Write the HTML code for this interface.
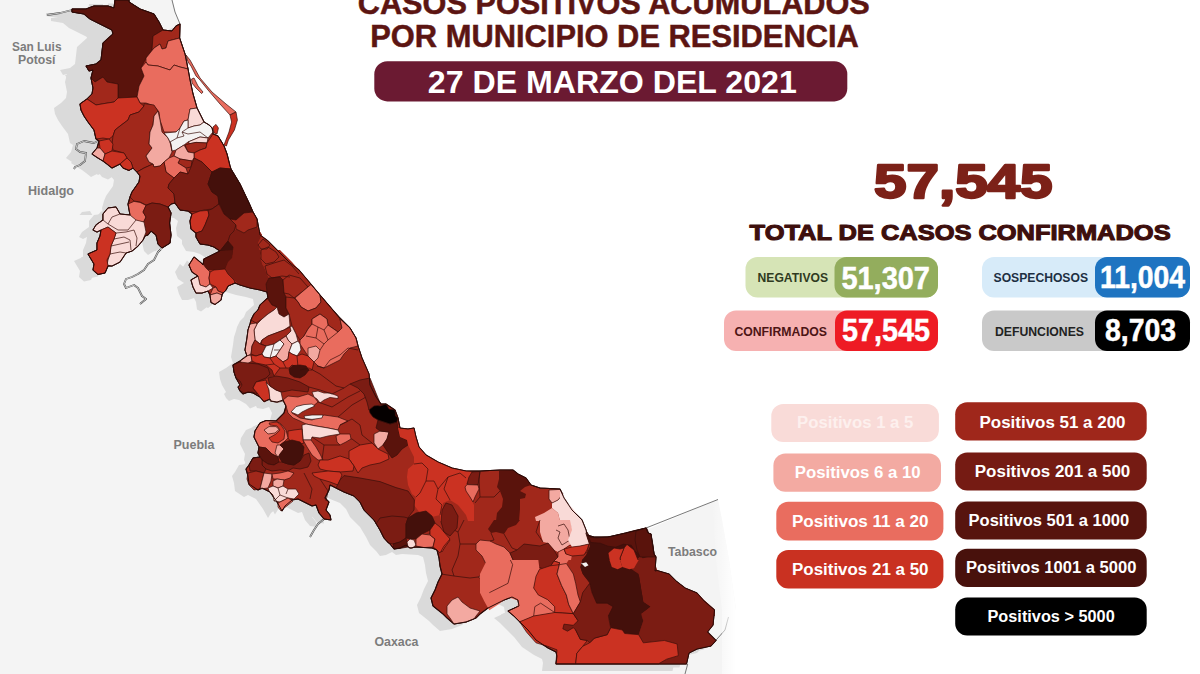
<!DOCTYPE html>
<html><head><meta charset="utf-8">
<style>
html,body{margin:0;padding:0;background:#fff;}
body{width:1200px;height:674px;overflow:hidden;font-family:"Liberation Sans",sans-serif;}
svg{display:block;position:absolute;left:0;top:0;}
text{font-family:"Liberation Sans",sans-serif;font-weight:bold;}
.c0{fill:#f4f2f2}.c1{fill:#f9dad7}.c2{fill:#f3a9a1}.c3{fill:#e96c5e}.c4{fill:#cb3222}.c5{fill:#a1281b}.c6{fill:#7b1c13}.c7{fill:#5a130c}.c8{fill:#44100b}.c9{fill:#050000}
</style></head><body>
<svg width="1200" height="674" viewBox="0 0 1200 674">
<rect width="1200" height="674" fill="#ffffff"/>
<polygon fill="#f4f4f4" points="0,0 172,0 175,12 180,24 180,30 185,100 200,140 225,190 245,230 275,270 320,320 350,370 372,410 405,445 460,480 520,495 580,540 646,530 718,499.5 722,520 729,560 736,610 735,674 0,674"/>
<clipPath id="topc"><rect x="0" y="0" width="300" height="215"/></clipPath><g clip-path="url(#topc)"><polygon points="115,0 114,8 108,6 94,6 86,9 72,9 72,12 84,14 90,19 100,24 112,30 113,34 103,43 101,60 96,64 86,66 89,71 93,70 91,78 93,88 92,94 87,99 80,104 81,110 84,116 88,122 94,130 96,139 99,141 97,148 92,154 98,158 103,161 107,164 112,168 120,164 123,168 129,170.4 133,168 137,172 140,176 139,182 132,192 130,197 128,204 130,215 120,214 116,207 108,208 103,214 103,220 96,225 93,230 97,232 101,230 100,236 97,243 97,250 88,254 94,264 93,270 98,274.4 105,273 108,266 112,266 120,262 126,253 132,251 138,246 143,240 145,236 148,235 151,231 156,235 158,244 162,248 170,243 171,235 169.6,223 171,213 168,207 171,204 175,203 180,210 188,211 192,214 190,221 191,229 196,233 196,237 200,244 208,245 214,247 220,251 212,255 204,259 203,265 200,262 194,257 189,265 192,272 198,276 191,280 193,287 196,293 202,293 208,291 210,295 211,302.4 215,304.4 221,300 222,295 223,293 226,290 228,286 235,283 240,285 250,288 260,290 267,292 268,298 260,305 258,310 254,314 251,320 250,324 248,330 247,338 245,350 247,356 240,361 233,365 234,372 236,378 240,385 238,387 240,391 243,394 248,392 253,393 260,397 264,401.4 270,399 271,401 277,402 283,400 286,406 284,413 281,416 276,421 266,420.6 260,423 255,431 254,437 256,441 259,447 258,453 260,457 253,458 249,465 246,469 248,476 249,484 258,490 262,488 270,492 277,502 282,511 285,506 292,500 298,499 306,503 312,506 316,505 319,513 324,519 331,520 330,515 326,510 329,502 325,498 329,490 330,485 336,488 344,492 354,496 360,502 364,510 374,520 380,530 384,538 390,544 394,549 400,548 406,545 410,548 416,547 432,548 437,550 439,558 440,566 442,574 438,582 435,590 431,598 433,606 443,614 447,618 454,624 466,622 476,618 480,614 488,608 496,604 504,600 512,597 518,600 519,606 508,611 514,616 520,622 528,630 536,640 548,648 556,652 557,656 556,664 686.5,664 689,653 697,649 711,646 716,640.5 707.5,632 713,625 714.5,610 704,601 697,593 685,588 676,581 669,574 657,570.5 655,571 656,557 654,554 651,534 648,533 646,528 626,533 608,537 594,537 587,535 586,530 582,520 572,510 564,498 560,489 540,488 531,485 526,478 518,474 513,470 500,470 480,471 466,471 452,468 438,462 426,455 419,447 416,437 414,428 408,429 400,428 398,418 395,410 386,404 381,404 376,397 370,385 369,374 362,358 358,346 356,338 350,328 340,318 332,309 320,295 310,283 299,270 290,263 280,253 268,241 260,235 257,219 253,212 249,203 240,184 231,169 230,166 227,154 224,146 218,136 213,134 213,132 212,128 209,125 204,122 200,114 197,108 193,94 190,80 188,69 185,54 179.6,38 180,24 176,26 172,31 163,30 159,22 154,14 140,9 129,2 129,0" transform="translate(-21,9)" fill="#dadada"/><polygon points="115,0 114,8 108,6 94,6 86,9 72,9 72,12 84,14 90,19 100,24 112,30 113,34 103,43 101,60 96,64 86,66 89,71 93,70 91,78 93,88 92,94 87,99 80,104 81,110 84,116 88,122 94,130 96,139 99,141 97,148 92,154 98,158 103,161 107,164 112,168 120,164 123,168 129,170.4 133,168 137,172 140,176 139,182 132,192 130,197 128,204 130,215 120,214 116,207 108,208 103,214 103,220 96,225 93,230 97,232 101,230 100,236 97,243 97,250 88,254 94,264 93,270 98,274.4 105,273 108,266 112,266 120,262 126,253 132,251 138,246 143,240 145,236 148,235 151,231 156,235 158,244 162,248 170,243 171,235 169.6,223 171,213 168,207 171,204 175,203 180,210 188,211 192,214 190,221 191,229 196,233 196,237 200,244 208,245 214,247 220,251 212,255 204,259 203,265 200,262 194,257 189,265 192,272 198,276 191,280 193,287 196,293 202,293 208,291 210,295 211,302.4 215,304.4 221,300 222,295 223,293 226,290 228,286 235,283 240,285 250,288 260,290 267,292 268,298 260,305 258,310 254,314 251,320 250,324 248,330 247,338 245,350 247,356 240,361 233,365 234,372 236,378 240,385 238,387 240,391 243,394 248,392 253,393 260,397 264,401.4 270,399 271,401 277,402 283,400 286,406 284,413 281,416 276,421 266,420.6 260,423 255,431 254,437 256,441 259,447 258,453 260,457 253,458 249,465 246,469 248,476 249,484 258,490 262,488 270,492 277,502 282,511 285,506 292,500 298,499 306,503 312,506 316,505 319,513 324,519 331,520 330,515 326,510 329,502 325,498 329,490 330,485 336,488 344,492 354,496 360,502 364,510 374,520 380,530 384,538 390,544 394,549 400,548 406,545 410,548 416,547 432,548 437,550 439,558 440,566 442,574 438,582 435,590 431,598 433,606 443,614 447,618 454,624 466,622 476,618 480,614 488,608 496,604 504,600 512,597 518,600 519,606 508,611 514,616 520,622 528,630 536,640 548,648 556,652 557,656 556,664 686.5,664 689,653 697,649 711,646 716,640.5 707.5,632 713,625 714.5,610 704,601 697,593 685,588 676,581 669,574 657,570.5 655,571 656,557 654,554 651,534 648,533 646,528 626,533 608,537 594,537 587,535 586,530 582,520 572,510 564,498 560,489 540,488 531,485 526,478 518,474 513,470 500,470 480,471 466,471 452,468 438,462 426,455 419,447 416,437 414,428 408,429 400,428 398,418 395,410 386,404 381,404 376,397 370,385 369,374 362,358 358,346 356,338 350,328 340,318 332,309 320,295 310,283 299,270 290,263 280,253 268,241 260,235 257,219 253,212 249,203 240,184 231,169 230,166 227,154 224,146 218,136 213,134 213,132 212,128 209,125 204,122 200,114 197,108 193,94 190,80 188,69 185,54 179.6,38 180,24 176,26 172,31 163,30 159,22 154,14 140,9 129,2 129,0" transform="translate(-26,4)" fill="#dadada"/></g><polygon points="115,0 114,8 108,6 94,6 86,9 72,9 72,12 84,14 90,19 100,24 112,30 113,34 103,43 101,60 96,64 86,66 89,71 93,70 91,78 93,88 92,94 87,99 80,104 81,110 84,116 88,122 94,130 96,139 99,141 97,148 92,154 98,158 103,161 107,164 112,168 120,164 123,168 129,170.4 133,168 137,172 140,176 139,182 132,192 130,197 128,204 130,215 120,214 116,207 108,208 103,214 103,220 96,225 93,230 97,232 101,230 100,236 97,243 97,250 88,254 94,264 93,270 98,274.4 105,273 108,266 112,266 120,262 126,253 132,251 138,246 143,240 145,236 148,235 151,231 156,235 158,244 162,248 170,243 171,235 169.6,223 171,213 168,207 171,204 175,203 180,210 188,211 192,214 190,221 191,229 196,233 196,237 200,244 208,245 214,247 220,251 212,255 204,259 203,265 200,262 194,257 189,265 192,272 198,276 191,280 193,287 196,293 202,293 208,291 210,295 211,302.4 215,304.4 221,300 222,295 223,293 226,290 228,286 235,283 240,285 250,288 260,290 267,292 268,298 260,305 258,310 254,314 251,320 250,324 248,330 247,338 245,350 247,356 240,361 233,365 234,372 236,378 240,385 238,387 240,391 243,394 248,392 253,393 260,397 264,401.4 270,399 271,401 277,402 283,400 286,406 284,413 281,416 276,421 266,420.6 260,423 255,431 254,437 256,441 259,447 258,453 260,457 253,458 249,465 246,469 248,476 249,484 258,490 262,488 270,492 277,502 282,511 285,506 292,500 298,499 306,503 312,506 316,505 319,513 324,519 331,520 330,515 326,510 329,502 325,498 329,490 330,485 336,488 344,492 354,496 360,502 364,510 374,520 380,530 384,538 390,544 394,549 400,548 406,545 410,548 416,547 432,548 437,550 439,558 440,566 442,574 438,582 435,590 431,598 433,606 443,614 447,618 454,624 466,622 476,618 480,614 488,608 496,604 504,600 512,597 518,600 519,606 508,611 514,616 520,622 528,630 536,640 548,648 556,652 557,656 556,664 686.5,664 689,653 697,649 711,646 716,640.5 707.5,632 713,625 714.5,610 704,601 697,593 685,588 676,581 669,574 657,570.5 655,571 656,557 654,554 651,534 648,533 646,528 626,533 608,537 594,537 587,535 586,530 582,520 572,510 564,498 560,489 540,488 531,485 526,478 518,474 513,470 500,470 480,471 466,471 452,468 438,462 426,455 419,447 416,437 414,428 408,429 400,428 398,418 395,410 386,404 381,404 376,397 370,385 369,374 362,358 358,346 356,338 350,328 340,318 332,309 320,295 310,283 299,270 290,263 280,253 268,241 260,235 257,219 253,212 249,203 240,184 231,169 230,166 227,154 224,146 218,136 213,134 213,132 212,128 209,125 204,122 200,114 197,108 193,94 190,80 188,69 185,54 179.6,38 180,24 176,26 172,31 163,30 159,22 154,14 140,9 129,2 129,0" transform="translate(-7,3.5)" fill="#dadada"/><polygon points="115,0 114,8 108,6 94,6 86,9 72,9 72,12 84,14 90,19 100,24 112,30 113,34 103,43 101,60 96,64 86,66 89,71 93,70 91,78 93,88 92,94 87,99 80,104 81,110 84,116 88,122 94,130 96,139 99,141 97,148 92,154 98,158 103,161 107,164 112,168 120,164 123,168 129,170.4 133,168 137,172 140,176 139,182 132,192 130,197 128,204 130,215 120,214 116,207 108,208 103,214 103,220 96,225 93,230 97,232 101,230 100,236 97,243 97,250 88,254 94,264 93,270 98,274.4 105,273 108,266 112,266 120,262 126,253 132,251 138,246 143,240 145,236 148,235 151,231 156,235 158,244 162,248 170,243 171,235 169.6,223 171,213 168,207 171,204 175,203 180,210 188,211 192,214 190,221 191,229 196,233 196,237 200,244 208,245 214,247 220,251 212,255 204,259 203,265 200,262 194,257 189,265 192,272 198,276 191,280 193,287 196,293 202,293 208,291 210,295 211,302.4 215,304.4 221,300 222,295 223,293 226,290 228,286 235,283 240,285 250,288 260,290 267,292 268,298 260,305 258,310 254,314 251,320 250,324 248,330 247,338 245,350 247,356 240,361 233,365 234,372 236,378 240,385 238,387 240,391 243,394 248,392 253,393 260,397 264,401.4 270,399 271,401 277,402 283,400 286,406 284,413 281,416 276,421 266,420.6 260,423 255,431 254,437 256,441 259,447 258,453 260,457 253,458 249,465 246,469 248,476 249,484 258,490 262,488 270,492 277,502 282,511 285,506 292,500 298,499 306,503 312,506 316,505 319,513 324,519 331,520 330,515 326,510 329,502 325,498 329,490 330,485 336,488 344,492 354,496 360,502 364,510 374,520 380,530 384,538 390,544 394,549 400,548 406,545 410,548 416,547 432,548 437,550 439,558 440,566 442,574 438,582 435,590 431,598 433,606 443,614 447,618 454,624 466,622 476,618 480,614 488,608 496,604 504,600 512,597 518,600 519,606 508,611 514,616 520,622 528,630 536,640 548,648 556,652 557,656 556,664 686.5,664 689,653 697,649 711,646 716,640.5 707.5,632 713,625 714.5,610 704,601 697,593 685,588 676,581 669,574 657,570.5 655,571 656,557 654,554 651,534 648,533 646,528 626,533 608,537 594,537 587,535 586,530 582,520 572,510 564,498 560,489 540,488 531,485 526,478 518,474 513,470 500,470 480,471 466,471 452,468 438,462 426,455 419,447 416,437 414,428 408,429 400,428 398,418 395,410 386,404 381,404 376,397 370,385 369,374 362,358 358,346 356,338 350,328 340,318 332,309 320,295 310,283 299,270 290,263 280,253 268,241 260,235 257,219 253,212 249,203 240,184 231,169 230,166 227,154 224,146 218,136 213,134 213,132 212,128 209,125 204,122 200,114 197,108 193,94 190,80 188,69 185,54 179.6,38 180,24 176,26 172,31 163,30 159,22 154,14 140,9 129,2 129,0" transform="translate(-14,7)" fill="#dadada"/>
<polyline points="161,249 158,252 154,260 148,264 144,270 138,274 132,277 126,279 124,284 126,288 134,285 138,288 142,296 146,299 140,304" fill="none" stroke="#4a4a4a" stroke-width="1.8" stroke-linejoin="round"/><polyline points="161,249 158,252 154,260 148,264 144,270 138,274 132,277 126,279 124,284 126,288 134,285 138,288 142,296 146,299 140,304" fill="none" stroke="#fafafa" stroke-width="0.7" stroke-linejoin="round"/>
<polyline points="100,140 94,143 84,141 77,144 76,149 80,152 86,153 85,161 80,165 75,167 74,169" fill="none" stroke="#4a4a4a" stroke-width="1.8" stroke-linejoin="round"/><polyline points="100,140 94,143 84,141 77,144 76,149 80,152 86,153 85,161 80,165 75,167 74,169" fill="none" stroke="#fafafa" stroke-width="0.7" stroke-linejoin="round"/>
<polyline points="72,10 60,13 47,15" fill="none" stroke="#4a4a4a" stroke-width="1.8" stroke-linejoin="round"/><polyline points="72,10 60,13 47,15" fill="none" stroke="#fafafa" stroke-width="0.7" stroke-linejoin="round"/>
<polyline points="324,519 318,524 314,530 310,537" fill="none" stroke="#4a4a4a" stroke-width="1.8" stroke-linejoin="round"/><polyline points="324,519 318,524 314,530 310,537" fill="none" stroke="#fafafa" stroke-width="0.7" stroke-linejoin="round"/>
<polyline points="728.5,617 725,630 715.7,640.5" fill="none" stroke="#555" stroke-width="0.8"/>
<polyline points="687.7,664 685,674" fill="none" stroke="#555" stroke-width="0.8"/>
<linearGradient id="tf" x1="0" y1="0" x2="1" y2="0"><stop offset="0" stop-color="#fff" stop-opacity="0"/><stop offset="1" stop-color="#fff" stop-opacity="1"/></linearGradient><polygon points="712,499 718,499 722,520 729,560 736,610 736,674 722,674 722,610 716,560" fill="url(#tf)"/>
<polyline points="646,528 718,499.5" fill="none" stroke="#555" stroke-width="0.8"/>
<polyline points="172,0 175,12 180,24" fill="none" stroke="#555" stroke-width="0.8"/>
<polygon points="115,0 114,8 108,6 94,6 86,9 72,9 72,12 84,14 90,19 100,24 112,30 113,34 103,43 101,60 96,64 86,66 89,71 93,70 91,78 93,88 92,94 87,99 80,104 81,110 84,116 88,122 94,130 96,139 99,141 97,148 92,154 98,158 103,161 107,164 112,168 120,164 123,168 129,170.4 133,168 137,172 140,176 139,182 132,192 130,197 128,204 130,215 120,214 116,207 108,208 103,214 103,220 96,225 93,230 97,232 101,230 100,236 97,243 97,250 88,254 94,264 93,270 98,274.4 105,273 108,266 112,266 120,262 126,253 132,251 138,246 143,240 145,236 148,235 151,231 156,235 158,244 162,248 170,243 171,235 169.6,223 171,213 168,207 171,204 175,203 180,210 188,211 192,214 190,221 191,229 196,233 196,237 200,244 208,245 214,247 220,251 212,255 204,259 203,265 200,262 194,257 189,265 192,272 198,276 191,280 193,287 196,293 202,293 208,291 210,295 211,302.4 215,304.4 221,300 222,295 223,293 226,290 228,286 235,283 240,285 250,288 260,290 267,292 268,298 260,305 258,310 254,314 251,320 250,324 248,330 247,338 245,350 247,356 240,361 233,365 234,372 236,378 240,385 238,387 240,391 243,394 248,392 253,393 260,397 264,401.4 270,399 271,401 277,402 283,400 286,406 284,413 281,416 276,421 266,420.6 260,423 255,431 254,437 256,441 259,447 258,453 260,457 253,458 249,465 246,469 248,476 249,484 258,490 262,488 270,492 277,502 282,511 285,506 292,500 298,499 306,503 312,506 316,505 319,513 324,519 331,520 330,515 326,510 329,502 325,498 329,490 330,485 336,488 344,492 354,496 360,502 364,510 374,520 380,530 384,538 390,544 394,549 400,548 406,545 410,548 416,547 432,548 437,550 439,558 440,566 442,574 438,582 435,590 431,598 433,606 443,614 447,618 454,624 466,622 476,618 480,614 488,608 496,604 504,600 512,597 518,600 519,606 508,611 514,616 520,622 528,630 536,640 548,648 556,652 557,656 556,664 686.5,664 689,653 697,649 711,646 716,640.5 707.5,632 713,625 714.5,610 704,601 697,593 685,588 676,581 669,574 657,570.5 655,571 656,557 654,554 651,534 648,533 646,528 626,533 608,537 594,537 587,535 586,530 582,520 572,510 564,498 560,489 540,488 531,485 526,478 518,474 513,470 500,470 480,471 466,471 452,468 438,462 426,455 419,447 416,437 414,428 408,429 400,428 398,418 395,410 386,404 381,404 376,397 370,385 369,374 362,358 358,346 356,338 350,328 340,318 332,309 320,295 310,283 299,270 290,263 280,253 268,241 260,235 257,219 253,212 249,203 240,184 231,169 230,166 227,154 224,146 218,136 213,134 213,132 212,128 209,125 204,122 200,114 197,108 193,94 190,80 188,69 185,54 179.6,38 180,24 176,26 172,31 163,30 159,22 154,14 140,9 129,2 129,0" fill="#a1281b" stroke="#2c0a07" stroke-width="1.1" stroke-linejoin="round"/>

<g transform="translate(60,0) scale(0.2)" stroke="#3a0e0a" stroke-width="3.5" stroke-linejoin="round">
<polygon class="c7" points="275,0 270,40 240,30 170,30 130,45 60,45 60,60 120,70 150,95 200,120 260,150 265,170 215,215 205,300 180,320 130,330 145,355 165,350 155,390 175,410 215,385 235,410 290,420 290,490 385,485 395,430 420,380 405,340 430,290 460,250 465,180 515,150 495,110 470,70 400,45 345,10 345,0"/>
<polygon class="c5" points="465,180 515,150 560,155 580,130 600,120 598,190 540,205 530,240 510,245 500,220 470,240 460,250"/>
<polygon class="c3" points="430,290 470,240 500,220 510,245 530,240 540,205 598,190 625,270 640,345 600,335 570,325 550,350 520,340 490,330 440,325 430,310"/>
<polygon class="c3" points="405,340 430,310 440,325 490,330 520,340 550,350 570,325 600,335 640,345 650,400 665,470 685,540 650,545 640,600 620,605 600,640 580,660 520,660 500,600 495,560 470,530 430,515 400,515 385,485 395,430 420,380"/>
</g>
<g transform="translate(60,68) scale(0.2)" stroke="#3a0e0a" stroke-width="3.5" stroke-linejoin="round">
<polygon class="c5" points="155,50 175,70 215,45 235,70 290,80 290,150 270,170 220,178 180,185 150,165 135,155 160,130 165,100"/>
<polygon class="c4" points="100,180 135,155 150,165 180,185 220,178 270,170 290,150 385,145 400,175 420,190 395,220 350,235 340,260 300,290 275,310 265,340 245,355 215,350 180,355 170,310 140,270 120,240 105,210"/>
<polygon class="c5" points="420,178 470,185 490,215 470,240 465,285 450,320 445,380 460,400 430,440 445,470 465,480 420,500 385,520 365,500 355,470 335,450 320,425 265,410 260,380 265,340 275,310 300,290 340,260 350,235 395,220 420,190"/>
<polygon class="c2" points="490,215 500,260 510,320 540,350 555,380 560,420 545,450 520,470 500,490 470,495 465,480 445,470 430,440 460,400 445,380 450,320 465,285 470,240"/>
<polygon class="c1" points="650,205 685,200 700,230 720,270 700,285 670,290 640,300 640,260"/>
<polygon class="c0" points="520,325 580,320 600,300 620,265 640,260 640,300 670,290 700,285 720,270 745,285 760,300 765,320 740,350 700,345 640,370 620,385 580,410 560,415 555,380 540,350"/>
<polyline points="560,415 550,370 585,350 600,300" fill="none" stroke="#3a0e0a"/>
<polyline points="640,300 610,320 640,330 700,320 740,350" fill="none" stroke="#3a0e0a"/>
<polyline points="585,350 620,340 610,320" fill="none" stroke="#3a0e0a"/>
<polygon class="c4" points="765,295 780,282 792,300 785,330 770,325"/>
<polygon class="c1" points="640,370 700,345 740,350 735,375 680,372 650,378"/>
<polygon class="c5" points="625,385 650,378 680,372 735,375 730,400 700,410 670,425 640,420"/>
<polygon class="c4" points="735,375 765,330 790,340 820,390 835,430 850,490 855,505 800,500 760,520 710,470 670,450 670,425 700,410 730,400"/>
<polygon class="c2" points="580,410 620,385 640,420 670,425 670,450 660,465 600,455 570,440"/>
<polygon class="c5" points="600,455 660,465 655,495 630,500 590,475"/>
<polygon class="c3" points="520,470 545,450 570,440 600,455 590,475 630,500 640,530 600,520 570,550 530,520"/>
<polygon class="c4" points="195,365 245,355 265,380 260,415 225,430 200,400"/>
<polygon class="c2" points="160,430 185,400 200,400 225,430 215,465 190,450"/>
<polygon class="c4" points="225,430 260,415 320,425 335,450 300,480 260,500 235,480 215,465"/>
<polygon class="c4" points="335,450 355,470 365,500 345,512 315,500 300,480"/>
<polygon class="c3" points="630,-65 650,-40 700,50 760,120 830,180 880,220 850,235 800,180 740,110 700,60 680,40 655,-10 640,-30"/>
<polygon class="c4" points="850,235 880,220 887,260 872,310 842,360 832,390 820,385 845,320 858,270"/>
<polygon class="c3" points="658,55 670,50 690,90 715,120 708,128 680,100 660,75"/>
</g>
<g transform="translate(60,135) scale(0.2)" stroke="#3a0e0a" stroke-width="3.5" stroke-linejoin="round">
<polygon class="c6" stroke="none" points="880,470 920,490 940,475 985,460 1010,500 990,540 1000,590 1010,640 1020,675 830,675 835,640 860,600 865,560 840,530 850,500 870,480"/>
<polygon class="c7" stroke="none" points="720,620 760,600 800,580 820,580 860,600 835,640 830,675 730,675 715,650"/>
<polygon class="c5" stroke="none" points="985,460 1000,500 1040,530 1100,590 1150,640 1190,680 1020,680 1010,640 1000,590 990,540 1010,500"/>
<polygon class="c3" stroke="none" points="650,640 670,610 700,640 720,670 715,680 660,680"/>
<polygon class="c5" points="385,185 420,165 465,145 470,160 500,155 520,135 530,185 570,215 545,245 540,265 570,295 575,340 555,345 540,360 500,345 460,340 430,350 400,335 370,330 350,310 360,285 395,235 400,205"/>
<polygon class="c6" points="570,215 600,185 640,195 655,160 670,115 710,135 760,185 740,245 760,285 790,305 795,345 760,370 720,375 680,385 640,380 600,375 575,340 570,295 540,265 545,245"/>
<polygon class="c8" points="760,185 800,165 855,170 900,245 945,340 965,385 920,390 880,425 850,420 820,395 800,350 795,345 790,305 760,285 740,245"/>
<polygon class="c3" points="340,345 370,332 400,337 430,352 415,385 430,410 420,435 380,430 350,400"/>
<polygon class="c6" points="430,352 460,340 500,345 540,360 555,390 548,440 555,500 550,540 510,565 490,545 480,500 455,480 440,500 420,490 425,460 415,440 430,410 415,385"/>
<polygon class="c4" points="660,395 700,380 740,377 745,400 725,450 710,480 680,490 655,470 650,430"/>
<polygon class="c6" points="740,377 760,370 795,345 820,395 850,420 880,450 870,480 850,500 840,530 800,580 770,560 740,550 700,545 680,510 680,490 710,480 725,450 745,400"/>
<polygon class="c5" points="880,425 920,390 965,385 985,420 985,460 940,475 920,490 880,470 880,450 850,420"/>
<polygon class="c8" points="840,530 865,560 860,600 820,580 800,580"/>
</g>
<g transform="translate(60,200) scale(0.2)" stroke="#3a0e0a" stroke-width="3.5" stroke-linejoin="round">
<polygon class="c1" points="165,150 180,125 215,100 215,70 240,40 280,35 300,70 350,75 380,100 420,110 430,160 415,200 390,230 360,255 330,265 300,310 260,330 235,325 240,300 250,270 255,230 270,195 280,165 240,135 205,150 185,160"/>
<polyline points="215,100 240,120 260,85 300,70" fill="none" stroke="#3a0e0a"/>
<polyline points="240,120 290,150 340,150 380,100" fill="none" stroke="#3a0e0a"/>
<polyline points="280,165 330,160 370,150 385,190 380,230" fill="none" stroke="#3a0e0a"/>
<polyline points="270,195 320,185 350,200 355,250" fill="none" stroke="#3a0e0a"/>
<polyline points="255,230 300,220 345,210" fill="none" stroke="#3a0e0a"/>
<polyline points="250,270 300,260 330,265" fill="none" stroke="#3a0e0a"/>
<polygon class="c4" points="205,150 240,135 280,165 270,195 255,230 250,270 235,300 240,330 225,365 190,372 165,350 170,320 140,270 185,250 185,215 200,180"/>
</g>
<g transform="translate(180,250) scale(0.2)" stroke="#3a0e0a" stroke-width="3.5" stroke-linejoin="round">
<polygon class="c5" stroke="none" points="890,480 910,540 945,620 950,680 600,680 620,640 660,600 690,580 720,590 760,570 800,550 820,520 850,490"/>
<polygon class="c6" stroke="none" points="265,0 400,0 410,30 400,60 420,85 430,110 445,140 430,170 435,210 400,200 350,190 300,175 270,150 240,120 225,95 240,60 260,40"/>
<polygon class="c7" stroke="none" points="115,45 160,25 200,5 265,0 260,40 240,60 225,95 170,100 130,90 115,70"/>
<polygon class="c5" stroke="none" points="410,0 470,0 495,20 490,50 460,65 440,80 410,60 400,30"/>
<polygon class="c5" stroke="none" points="500,0 560,60 620,130 655,170 640,185 610,210 590,225 570,240 545,220 520,215 515,150 500,135 445,140 430,110 420,85 440,80 460,65 490,50 495,20 475,0"/>
<polygon class="c6" stroke="none" points="265,575 300,560 335,570 360,555 380,565 430,575 460,600 470,630 440,640 420,655 380,665 340,680 300,675 280,640 270,610"/>
<polygon class="c5" stroke="none" points="470,630 500,590 545,595 550,620 570,635 600,640 625,625 645,600 660,600 690,580 720,590 700,620 680,650 690,680 340,680 380,665 420,655 440,640"/>
<polygon class="c3" points="45,75 70,35 100,60 115,70 130,90 150,110 145,140 150,170 130,185 100,175 90,130 60,110"/>
<polygon class="c4" points="150,110 170,100 225,95 240,120 270,150 275,165 240,180 230,200 215,215 190,205 180,185 150,170 145,140"/>
<polygon class="c1" points="55,150 90,130 100,175 130,185 150,170 165,190 140,205 110,215 80,215 65,185"/>
<polygon class="c3" points="165,190 180,185 190,205 215,215 205,225 185,215 150,225"/>
<polygon class="c2" points="150,225 185,215 210,225 205,250 175,272 155,262"/>
<polygon class="c7" points="445,140 500,135 515,150 520,215 530,235 530,290 545,320 520,335 495,320 485,285 460,275 440,240 435,210 430,170"/>
<polygon class="c5" points="515,150 545,125 600,140 640,185 610,210 590,225 570,240 545,220 520,215"/>
<polygon class="c3" points="575,240 610,210 655,172 700,225 705,260 680,290 640,305 605,285 590,260"/>
<polygon class="c5" points="530,235 570,240 590,260 605,285 640,305 680,290 705,260 700,225 760,295 800,345 810,390 790,410 740,375 735,345 700,320 660,345 660,370 640,395 620,430 600,450 580,420 560,380 545,320 530,290"/>
<polygon class="c3" points="660,345 700,320 735,345 740,375 790,410 810,390 800,345 850,390 880,440 890,480 850,490 820,520 800,550 760,570 720,590 690,580 670,560 640,530 620,500 600,470 600,450 620,430 640,395 660,370"/>
<polyline points="740,375 720,400 690,385 660,370" fill="none" stroke="#3a0e0a"/>
<polyline points="720,400 740,450 790,410" fill="none" stroke="#3a0e0a"/>
<polyline points="690,385 680,440 630,430" fill="none" stroke="#3a0e0a"/>
<polyline points="680,440 720,470 740,450" fill="none" stroke="#3a0e0a"/>
<polyline points="720,470 700,500" fill="none" stroke="#3a0e0a"/>
<polygon class="c5" points="400,275 435,240 460,275 485,285 470,300 440,320 410,345 380,365 355,350 370,320 390,300"/>
<polygon class="c1" points="470,300 485,285 495,320 520,335 545,320 550,380 520,400 480,415 440,430 410,450 400,470 375,450 370,400 385,370 410,345 440,320"/>
<polygon class="c2" points="350,370 380,365 385,370 370,400 375,450 360,480 355,520 335,530 325,500 335,440 340,400"/>
<polygon class="c5" points="410,450 440,430 480,415 520,400 550,385 555,405 530,430 500,450 470,470 430,480 405,470"/>
<polygon class="c1" points="550,385 560,380 580,420 590,455 560,470 540,450 530,430 555,405"/>
<polygon class="c5" points="360,480 375,450 400,470 430,480 410,520 380,530 355,520"/>
<polygon class="c0" points="430,480 470,470 500,450 520,470 500,500 480,530 450,540 420,535 410,520"/>
<polyline points="470,470 450,540" fill="none" stroke="#3a0e0a"/>
<polyline points="500,500 470,500" fill="none" stroke="#3a0e0a"/>
<polygon class="c2" points="500,450 530,430 540,450 560,470 545,510 540,545 515,560 490,540 480,530 500,500 520,470"/>
<polygon class="c0" points="560,470 590,455 600,470 605,500 585,530 560,520 545,510"/>
<polygon class="c2" points="640,490 680,480 700,500 690,540 670,560 640,530"/>
<polygon class="c2" points="300,555 330,530 355,525 360,555 335,570 310,568"/>
<polygon class="c4" points="360,555 355,525 380,530 410,520 420,535 450,540 480,530 490,540 515,560 540,545 545,510 560,520 585,530 610,520 640,530 670,560 660,600 620,600 590,585 560,575 545,590 500,590 470,630 460,600 430,575 380,565"/>
<polyline points="450,540 470,570 500,590" fill="none" stroke="#3a0e0a"/>
<polyline points="470,570 430,575" fill="none" stroke="#3a0e0a"/>
<polyline points="515,560 530,590" fill="none" stroke="#3a0e0a"/>
<polyline points="585,530 590,585" fill="none" stroke="#3a0e0a"/>
<polygon class="c8" points="545,595 565,578 600,575 630,580 645,600 625,625 600,640 570,635 550,620"/>
</g>
<g transform="translate(220,200) scale(0.2)" stroke="#3a0e0a" stroke-width="3.5" stroke-linejoin="round">
<polyline points="190,225 215,195 250,225 235,245 205,245 190,225" fill="none" stroke="#3a0e0a"/>
<polyline points="205,250 240,235 280,260 295,285 270,310 230,320 205,295 205,250" fill="none" stroke="#3a0e0a"/>
<polyline points="225,330 270,315 320,300 360,330 395,370" fill="none" stroke="#3a0e0a"/>
<polyline points="225,330 235,370 260,390 310,380 350,385" fill="none" stroke="#3a0e0a"/>
</g>
<g transform="translate(200,385) scale(0.2)" stroke="#3a0e0a" stroke-width="3.5" stroke-linejoin="round">
<polygon class="c3" points="415,75 440,55 490,60 540,45 570,60 590,85 560,110 520,100 480,110 460,140 500,165 560,175 620,150 690,160 740,180 700,200 690,225 640,215 580,205 530,195 500,180 465,165 440,140 430,105"/>
<polygon class="c0" points="455,135 480,108 520,98 560,95 575,105 540,120 510,135 490,150"/>
<polygon class="c0" points="520,155 560,150 615,150 610,165 560,172 525,168"/>
<polygon class="c1" points="510,200 530,195 580,205 640,215 690,225 700,245 640,255 600,265 560,260 555,275 515,275"/>
<polygon class="c1" points="560,35 590,30 620,40 650,40 690,55 690,68 650,62 620,75 600,90 585,70 570,60"/>
<polygon class="c4" points="440,230 470,225 510,220 515,275 520,290 490,300 460,290 440,265"/>
<polygon class="c3" points="275,230 300,190 330,178 380,180 405,195 430,225 440,265 420,285 400,300 420,320 400,345 390,360 360,345 330,315 295,310 280,280 270,260"/>
<polygon class="c4" points="345,190 385,185 405,200 425,230 420,270 390,290 360,285 345,265 380,245 400,225 385,205 350,200"/>
<polygon class="c2" points="320,225 345,208 380,208 395,222 375,240 340,245"/>
<polygon class="c2" points="385,300 400,300 420,320 400,345 390,360 375,340"/>
<polygon class="c7" points="295,310 330,315 360,345 390,360 395,385 370,400 340,395 310,375 290,340"/>
<polygon class="c6" points="500,380 520,350 545,340 555,380 540,410 500,420 465,415 440,430 400,425 360,430 330,420 310,400 310,375 340,395 370,400 395,385 410,385 440,395 470,400"/>
<polygon class="c8" points="420,285 460,275 500,285 520,310 515,350 500,380 470,400 440,395 410,385 395,360 400,345 420,320 400,300"/>
<polygon class="c6" points="245,400 265,365 300,360 310,375 310,400 330,420 320,440 280,430 250,430"/>
<polygon class="c3" points="515,275 555,275 580,310 600,345 615,375 590,375 560,350 535,310"/>
<polygon class="c3" points="680,255 700,245 750,245 755,270 730,285 700,300 685,285"/>
<polygon class="c4" points="745,330 800,300 860,290 890,320 940,345 945,370 900,390 850,400 810,415 790,440 770,405 745,370"/>
<polygon class="c4" points="600,375 640,375 700,355 745,370 770,405 765,430 700,435 640,430 600,420 590,400"/>
<polygon class="c2" points="870,245 900,230 945,235 935,270 915,300 890,320 870,290"/>
<polygon class="c7" points="890,175 920,185 950,195 985,185 990,215 1000,260 1035,275 1040,300 1010,320 985,350 960,365 945,345 915,300 935,270 945,235 900,230 880,215"/>
<polygon class="c9" points="845,120 870,100 900,105 930,95 945,120 975,125 978,155 990,165 985,185 950,195 920,185 890,175 865,160 850,140"/>
<polygon class="c5" points="240,440 280,430 320,440 310,480 300,520 270,525 245,500 235,470"/>
<polygon class="c2" points="320,440 360,445 355,480 340,515 300,520 310,480"/>
<polygon class="c3" points="360,445 400,440 440,430 470,440 450,465 420,475 385,470 365,470"/>
<polygon class="c2" points="365,480 385,470 420,475 415,505 390,515 365,505"/>
<polygon class="c1" points="340,515 365,505 390,515 415,505 440,520 480,520 495,545 470,570 440,565 400,585 370,580 365,550 345,530"/>
<polyline points="390,515 400,550 370,580" fill="none" stroke="#3a0e0a"/>
<polyline points="400,550 440,565" fill="none" stroke="#3a0e0a"/>
<polyline points="440,520 430,545" fill="none" stroke="#3a0e0a"/>
<polygon class="c3" points="390,590 400,585 440,565 465,580 440,600 415,620 405,630 390,610"/>
<polygon class="c4" points="560,440 640,430 700,435 710,450 690,500 650,485 600,470 570,455"/>
<polyline points="520,440 560,520 550,570" fill="none" stroke="#3a0e0a"/>
<polyline points="600,470 640,530 630,580" fill="none" stroke="#3a0e0a"/>
<polyline points="700,200 760,170 800,200 810,250 860,290" fill="none" stroke="#3a0e0a"/>
<polyline points="690,160 760,100 830,60" fill="none" stroke="#3a0e0a"/>
<polyline points="590,85 660,110 740,60 800,30" fill="none" stroke="#3a0e0a"/>
<polyline points="560,260 620,300 700,300" fill="none" stroke="#3a0e0a"/>
<polyline points="620,300 610,375" fill="none" stroke="#3a0e0a"/>
<polyline points="800,300 760,270 755,270" fill="none" stroke="#3a0e0a"/>
</g>
<g transform="translate(200,330) scale(0.2)" stroke="#3a0e0a" stroke-width="3.5" stroke-linejoin="round">
<polygon class="c6" points="165,175 200,160 240,165 290,170 340,190 350,220 330,240 280,260 265,290 290,320 260,310 220,315 195,300 210,275 200,255 180,240 170,210"/>
<polygon class="c4" points="265,290 280,260 330,250 345,300 350,345 320,360 300,335 290,320"/>
<polygon class="c1" points="330,262 350,280 380,300 405,310 415,355 385,362 350,355 345,300"/>
<polygon class="c6" points="340,240 380,230 440,240 500,260 545,285 540,310 500,305 460,300 410,310 380,300 350,280"/>
<polygon class="c6" points="750,270 800,250 850,240 870,290 890,340 905,375 870,380 845,400 835,360 820,320 790,290"/>
<polyline points="585,180 620,190 650,150 700,125 740,90 790,100" fill="none" stroke="#3a0e0a"/>
<polyline points="600,220 640,250 680,280 720,290 750,270" fill="none" stroke="#3a0e0a"/>
<polyline points="545,285 600,300 660,320 720,290" fill="none" stroke="#3a0e0a"/>
<polyline points="500,200 545,190 600,220" fill="none" stroke="#3a0e0a"/>
</g>
<g transform="translate(400,385) scale(0.2)" stroke="#3a0e0a" stroke-width="3.5" stroke-linejoin="round">
<polygon class="c4" stroke="none" points="-10,215 40,220 70,215 80,260 95,310 130,350 190,385 260,415 330,430 360,435 350,465 330,500 350,560 370,600 370,680 200,680 200,650 160,660 100,640 70,600 80,560 60,545 40,500 35,460 40,420 70,395 70,360 40,300 35,275 0,260"/>
<polygon class="c5" stroke="none" points="215,590 250,575 290,600 330,650 340,680 210,680"/>
<polygon class="c7" stroke="none" points="495,430 565,425 590,445 630,465 655,500 625,510 600,530 630,545 625,565 600,570 600,620 595,680 480,680 485,640 510,610 515,570 500,530 485,510 495,470"/>
<polygon class="c1" stroke="none" points="760,590 790,575 815,545 830,580 870,625 910,680 800,680 790,640 760,615"/>
<polygon class="c2" stroke="none" points="675,660 720,640 760,615 790,640 800,680 680,680"/>
<polyline points="70,395 110,390 140,420 130,480 100,540 80,560" fill="none" stroke="#3a0e0a"/>
<polyline points="130,480 170,480 190,520 240,460 300,440 330,465" fill="none" stroke="#3a0e0a"/>
<polyline points="190,520 180,570 210,600 200,650" fill="none" stroke="#3a0e0a"/>
<polyline points="240,460 220,520 250,575" fill="none" stroke="#3a0e0a"/>
<polygon class="c6" points="335,495 345,460 360,435 400,432 395,470 390,500 360,500"/>
<polygon class="c3" points="325,510 335,498 390,500 395,520 375,560 365,585 350,560 330,530"/>
<polygon class="c2" points="745,525 800,522 815,545 790,575 760,590 745,570"/>
<polyline points="400,432 395,470 400,560 375,590" fill="none" stroke="#3a0e0a"/>
<polyline points="400,560 470,560 500,530" fill="none" stroke="#3a0e0a"/>
</g>
<g transform="translate(400,520) scale(0.2)" stroke="#3a0e0a" stroke-width="3.5" stroke-linejoin="round">
<polygon class="c7" stroke="none" points="440,45 470,0 600,0 580,25 540,40 520,70 480,60 455,65"/>
<polygon class="c2" stroke="none" points="700,0 870,0 900,20 930,60 945,120 900,130 850,125 820,145 790,160 770,150 740,115 715,110 700,60"/>
<polygon class="c3" points="85,100 110,75 150,70 175,95 165,130 120,135 95,128"/>
<polygon class="c4" points="150,50 180,20 215,60 250,100 225,135 210,160 185,140 165,130 175,95 150,70"/>
<polygon class="c0" points="35,125 55,95 75,120 60,140"/>
<polygon class="c3" points="380,120 400,100 450,105 480,120 520,135 550,165 570,210 550,230 555,290 530,300 525,330 480,345 440,360 420,320 415,300 390,285 420,270 430,220 410,180 380,150"/>
<polygon class="c3" points="440,360 480,345 525,330 530,300 555,290 550,230 600,240 650,225 690,235 695,270 680,310 665,345 690,385 720,420 740,400 770,410 770,440 740,445 700,430 670,440 665,480 600,500 570,480 540,455 595,430 590,400 560,385 520,400 480,420 460,400"/>
<polygon class="c6" points="570,210 550,165 585,150 620,120 660,125 700,130 740,115 770,150 790,185 770,205 740,250 700,240 690,235 650,225 600,240"/>
<polygon class="c1" points="860,0 900,20 930,60 945,120 900,130 870,110 880,60 860,30"/>
<polyline points="790,30 820,20 840,50 850,100 810,125 790,90 800,60 780,50" fill="none" stroke="#3a0e0a"/>
<polygon class="c4" points="820,145 850,125 900,130 945,120 935,160 900,185 860,180 830,170"/>
<polygon class="c3" points="770,205 790,185 790,160 820,145 830,170 840,195 800,215"/>
<polygon class="c4" points="690,235 700,240 740,250 770,205 800,215 780,250 770,290 790,340 820,370 830,400 835,460 780,470 740,475 700,480 665,480 670,440 700,430 740,445 770,440 770,410 740,400 720,420 690,385 665,345 680,310 695,270"/>
<polygon class="c3" points="800,215 840,195 850,240 870,280 850,310 860,350 890,380 880,420 870,460 835,460 830,400 820,370 790,340 770,290 780,250"/>
<polygon class="c5" points="840,195 860,180 900,185 920,210 900,240 920,270 930,310 960,320 940,350 900,370 890,380 860,350 850,310 870,280 850,240"/>
<polygon class="c2" points="235,430 260,400 290,385 310,410 350,440 400,455 380,480 370,495 330,510 300,515 270,520 250,490 235,470"/>
<polyline points="215,60 250,40 290,60 300,120 290,180 260,250 270,280 205,270" fill="none" stroke="#3a0e0a"/>
<polyline points="300,120 380,120" fill="none" stroke="#3a0e0a"/>
<polyline points="270,280 350,290 390,285" fill="none" stroke="#3a0e0a"/>
<polyline points="290,60 320,0" fill="none" stroke="#3a0e0a"/>
<polyline points="455,65 470,100 450,105" fill="none" stroke="#3a0e0a"/>
<polyline points="520,70 560,140 585,150" fill="none" stroke="#3a0e0a"/>
<polyline points="715,110 680,60 700,0" fill="none" stroke="#3a0e0a"/>
</g>
<g transform="translate(240,470) scale(0.2)" stroke="#3a0e0a" stroke-width="3.5" stroke-linejoin="round">
<polygon class="c6" points="500,50 520,28 600,40 700,58 780,88 840,105 872,150 870,200 850,225 840,240 830,270 830,340 800,360 765,370 740,365 720,340 700,300 670,250 620,200 600,160 570,130 520,110 480,90"/>
<polyline points="680,270 700,240 760,230 820,235 840,240" fill="none" stroke="#3a0e0a"/>
<polygon class="c8" points="830,270 840,240 880,215 930,205 960,230 975,265 950,300 910,320 880,345 850,345 830,340"/>
<polygon class="c7" points="765,370 800,360 830,340 835,360 840,385 800,392 770,395"/>
<polygon class="c1" points="835,360 850,345 870,350 880,375 860,392 840,385"/>
<polygon class="c3" points="880,345 910,320 950,325 975,345 965,385 920,388 880,380"/>
<polygon class="c4" points="950,300 975,265 1000,285 1020,310 1050,345 1020,380 1000,415 985,400 965,385 975,345 950,325"/>
<polygon class="c6" points="1010,200 1030,165 1060,175 1090,230 1085,290 1050,330 1020,310 1005,260"/>
</g>
<g transform="translate(560,480) scale(0.2)" stroke="#3a0e0a" stroke-width="3.5" stroke-linejoin="round">
<polygon class="c1" stroke="none" points="0,55 20,90 60,150 110,200 130,250 135,290 145,320 100,330 60,335 40,300 60,250 50,200 20,180 0,170"/>
<polygon class="c3" stroke="none" points="0,380 30,370 60,380 50,430 70,480 60,540 90,600 70,650 40,660 0,640"/>
<polygon class="c5" stroke="none" points="60,380 120,375 110,400 100,450 120,480 150,510 160,560 180,620 160,680 70,680 70,650 90,600 60,540 70,480 50,430"/>
<polygon class="c6" stroke="none" points="400,385 480,385 475,455 540,470 560,510 600,530 640,550 690,570 720,600 770,645 775,680 400,680 430,655 455,630 430,600 410,560 400,480 350,460 380,400"/>
<polygon class="c8" stroke="none" points="125,260 135,275 170,285 240,285 330,265 430,240 440,265 455,270 470,370 480,385 400,385 380,400 350,460 400,480 410,560 430,600 455,630 430,655 400,680 160,680 180,620 160,560 150,510 120,480 100,450 110,400 130,375 150,330 135,290"/>
<polygon class="c4" points="20,345 60,335 100,330 145,320 135,350 120,375 60,380 30,370"/>
<polygon class="c7" points="134,259 150,285 182,290 259,282 375,252 433,240 462,307 471,374 414,389 375,355 356,326 317,321 279,336 240,331 201,316 153,312"/>
<polygon class="c7" points="380,255 430,240 440,265 455,270 470,370 480,385 400,385 385,350 375,300"/>
<polygon class="c4" points="300,390 320,340 335,322 370,350 390,400 370,440 330,445 305,430"/>
<polygon class="c4" points="240,365 270,340 300,345 320,340 300,390 305,430 275,440 250,420"/>
<polygon class="c0" stroke="none" points="105,415 125,410 145,425 135,438 112,430"/>
</g>
<g transform="translate(480,560) scale(0.23333)" stroke="#3a0e0a" stroke-width="3.00004" stroke-linejoin="round">
<polygon class="c3" stroke="none" points="0,60 30,0 250,0 255,40 240,70 230,120 250,150 290,170 320,200 320,225 230,240 170,265 130,225 160,200 165,175 120,160 80,190 40,215 20,180 0,140"/>
<polygon class="c5" stroke="none" points="370,15 380,0 430,0 430,30 440,60 470,100 440,140 430,180 420,150 410,100 400,60"/>
<polygon class="c6" stroke="none" points="745,0 760,45 810,60 840,90 880,120 930,140 960,175 1005,215 1000,280 975,310 1010,345 990,370 930,380 895,400 885,445 765,445 800,425 850,410 845,360 790,345 700,355 680,320 700,260 690,230 730,200 700,180 690,120 680,60 650,40 640,0"/>
<polygon class="c8" stroke="none" points="440,0 640,0 650,40 680,60 690,120 700,180 730,200 690,230 700,260 680,320 620,315 610,300 560,290 550,240 570,200 545,185 500,185 480,140 470,100 440,60 430,30"/>
<polygon class="c4" stroke="none" points="555,0 600,0 610,30 590,40 565,30"/>
<polygon class="c4" stroke="none" points="600,0 680,0 660,35 640,40 610,30"/>
<polygon class="c4" points="255,40 300,25 340,20 330,60 350,110 370,150 380,190 400,230 320,225 320,200 290,170 250,150 230,120 240,70"/>
<polygon class="c3" points="340,20 370,15 400,60 410,100 420,150 430,180 400,230 380,190 370,150 350,110 330,60"/>
<polygon class="c4" points="170,265 230,240 320,225 400,230 420,260 410,300 430,340 460,345 440,370 415,400 410,445 325,445 330,385 290,370 240,355 200,310"/>
<polygon class="c4" points="410,445 415,400 440,370 470,355 490,335 545,320 560,290 610,300 620,315 680,320 700,355 790,345 845,360 850,410 800,425 765,445"/>
<polygon class="c6" points="470,100 480,140 500,185 545,185 570,200 550,240 560,290 545,320 490,335 470,355 460,345 430,340 410,300 400,290 375,305 355,295 360,275 400,280 420,260 400,230 430,180 440,140"/>
<polygon class="c0" stroke="none" points="435,15 455,10 465,22 450,30"/>
<polyline points="230,240 235,200 260,185 320,225" fill="none" stroke="#3a0e0a"/>
<polyline points="130,60 120,100 40,140" fill="none" stroke="#3a0e0a"/>
<polyline points="130,60 140,20 130,0" fill="none" stroke="#3a0e0a"/>
</g>
<polygon id="otop" points="115,0 114,8 108,6 94,6 86,9 72,9 72,12 84,14 90,19 100,24 112,30 113,34 103,43 101,60 96,64 86,66 89,71 93,70 91,78 93,88 92,94 87,99 80,104 81,110 84,116 88,122 94,130 96,139 99,141 97,148 92,154 98,158 103,161 107,164 112,168 120,164 123,168 129,170.4 133,168 137,172 140,176 139,182 132,192 130,197 128,204 130,215 120,214 116,207 108,208 103,214 103,220 96,225 93,230 97,232 101,230 100,236 97,243 97,250 88,254 94,264 93,270 98,274.4 105,273 108,266 112,266 120,262 126,253 132,251 138,246 143,240 145,236 148,235 151,231 156,235 158,244 162,248 170,243 171,235 169.6,223 171,213 168,207 171,204 175,203 180,210 188,211 192,214 190,221 191,229 196,233 196,237 200,244 208,245 214,247 220,251 212,255 204,259 203,265 200,262 194,257 189,265 192,272 198,276 191,280 193,287 196,293 202,293 208,291 210,295 211,302.4 215,304.4 221,300 222,295 223,293 226,290 228,286 235,283 240,285 250,288 260,290 267,292 268,298 260,305 258,310 254,314 251,320 250,324 248,330 247,338 245,350 247,356 240,361 233,365 234,372 236,378 240,385 238,387 240,391 243,394 248,392 253,393 260,397 264,401.4 270,399 271,401 277,402 283,400 286,406 284,413 281,416 276,421 266,420.6 260,423 255,431 254,437 256,441 259,447 258,453 260,457 253,458 249,465 246,469 248,476 249,484 258,490 262,488 270,492 277,502 282,511 285,506 292,500 298,499 306,503 312,506 316,505 319,513 324,519 331,520 330,515 326,510 329,502 325,498 329,490 330,485 336,488 344,492 354,496 360,502 364,510 374,520 380,530 384,538 390,544 394,549 400,548 406,545 410,548 416,547 432,548 437,550 439,558 440,566 442,574 438,582 435,590 431,598 433,606 443,614 447,618 454,624 466,622 476,618 480,614 488,608 496,604 504,600 512,597 518,600 519,606 508,611 514,616 520,622 528,630 536,640 548,648 556,652 557,656 556,664 686.5,664 689,653 697,649 711,646 716,640.5 707.5,632 713,625 714.5,610 704,601 697,593 685,588 676,581 669,574 657,570.5 655,571 656,557 654,554 651,534 648,533 646,528 626,533 608,537 594,537 587,535 586,530 582,520 572,510 564,498 560,489 540,488 531,485 526,478 518,474 513,470 500,470 480,471 466,471 452,468 438,462 426,455 419,447 416,437 414,428 408,429 400,428 398,418 395,410 386,404 381,404 376,397 370,385 369,374 362,358 358,346 356,338 350,328 340,318 332,309 320,295 310,283 299,270 290,263 280,253 268,241 260,235 257,219 253,212 249,203 240,184 231,169 230,166 227,154 224,146 218,136 213,134 213,132 212,128 209,125 204,122 200,114 197,108 193,94 190,80 188,69 185,54 179.6,38 180,24 176,26 172,31 163,30 159,22 154,14 140,9 129,2 129,0" fill="none" stroke="#2c0a07" stroke-width="1" stroke-linejoin="round"/>
<g font-size="12.3" fill="#7c7c7c">
<text x="12" y="51" textLength="49.5" lengthAdjust="spacingAndGlyphs">San Luis</text>
<text x="18" y="63.5" textLength="37.5" lengthAdjust="spacingAndGlyphs">Potosí</text>
<text x="28" y="194.5" textLength="46" lengthAdjust="spacingAndGlyphs">Hidalgo</text>
<text x="173.5" y="449" textLength="41" lengthAdjust="spacingAndGlyphs">Puebla</text>
<text x="374.5" y="646" textLength="44" lengthAdjust="spacingAndGlyphs">Oaxaca</text>
<text x="668" y="556" textLength="49" lengthAdjust="spacingAndGlyphs">Tabasco</text>
</g>

<g id="titles">
<text x="357.8" y="13.7" font-size="32" fill="#5c1512" stroke="#5c1512" stroke-width="0.5" textLength="512" lengthAdjust="spacingAndGlyphs">CASOS POSITIVOS ACUMULADOS</text>
<text x="370.3" y="46.8" font-size="32" fill="#5c1512" stroke="#5c1512" stroke-width="0.5" textLength="488.5" lengthAdjust="spacingAndGlyphs">POR MUNICIPIO DE RESIDENCIA</text>
<rect x="374.3" y="61.2" width="473" height="40.2" rx="13" fill="#6b1a32"/>
<text x="427.8" y="92.7" font-size="31.8" fill="#ffffff" textLength="369" lengthAdjust="spacingAndGlyphs">27 DE MARZO DEL 2021</text>
<text x="874" y="198" font-size="49" fill="#7c2118" stroke="#7c2118" stroke-width="2.4" stroke-linejoin="round" textLength="178.5" lengthAdjust="spacingAndGlyphs">57,545</text>
<text x="749.6" y="239.6" font-size="22.3" fill="#3e0f0d" stroke="#3e0f0d" stroke-width="1.1" stroke-linejoin="round" textLength="421" lengthAdjust="spacingAndGlyphs">TOTAL DE CASOS CONFIRMADOS</text>
</g>
<g id="stats">
<rect x="745.5" y="257" width="192.5" height="40.5" rx="12" fill="#d6e4b6"/>
<rect x="834.5" y="257" width="103.5" height="40.5" rx="12" fill="#93ad5d"/>
<rect x="724" y="310.5" width="214" height="40.5" rx="12" fill="#f6b1b1"/>
<rect x="835" y="310.5" width="103" height="40.5" rx="12" fill="#ee1b24"/>
<rect x="982" y="257" width="208" height="40.5" rx="12" fill="#d7ebf9"/>
<rect x="1095" y="257" width="95" height="40.5" rx="12" fill="#1e74c1"/>
<rect x="982" y="310.5" width="208" height="40.5" rx="12" fill="#c9c9c9"/>
<rect x="1095" y="310.5" width="95" height="40.5" rx="12" fill="#000000"/>
<g font-size="13.7">
<text x="757.6" y="282.4" fill="#2f3a1f" textLength="70.5" lengthAdjust="spacingAndGlyphs">NEGATIVOS</text>
<text x="734.4" y="335.8" fill="#4d1515" textLength="92.6" lengthAdjust="spacingAndGlyphs">CONFIRMADOS</text>
<text x="993.6" y="282.4" fill="#1d2f42" textLength="94.4" lengthAdjust="spacingAndGlyphs">SOSPECHOSOS</text>
<text x="995" y="335.8" fill="#222222" textLength="89" lengthAdjust="spacingAndGlyphs">DEFUNCIONES</text>
</g>
<g font-size="30.5" fill="#ffffff" stroke="#ffffff" stroke-width="0.5">
<text x="841.4" y="288.8" textLength="88.6" lengthAdjust="spacingAndGlyphs">51,307</text>
<text x="842" y="340.5" textLength="88" lengthAdjust="spacingAndGlyphs">57,545</text>
<text x="1100" y="287.5" textLength="85" lengthAdjust="spacingAndGlyphs">11,004</text>
<text x="1105" y="341" textLength="71" lengthAdjust="spacingAndGlyphs">8,703</text>
</g>
</g>
<g id="legend">
<rect x="771.3" y="403.9" width="167.6" height="38" rx="12" fill="#f9dbd8"/>
<rect x="773.4" y="453.5" width="167.6" height="38.2" rx="12" fill="#f3aaa2"/>
<rect x="776.3" y="501.8" width="167.1" height="38.6" rx="12" fill="#e96d5f"/>
<rect x="776.3" y="549.9" width="167.1" height="38.6" rx="12" fill="#c93121"/>
<rect x="955.2" y="402.3" width="191.5" height="38.1" rx="12" fill="#9f271b"/>
<rect x="955.2" y="452.4" width="191.5" height="38.2" rx="12" fill="#751b13"/>
<rect x="955.2" y="501.5" width="191.5" height="38.1" rx="12" fill="#57140e"/>
<rect x="955.2" y="548.7" width="191.5" height="38.2" rx="12" fill="#48110c"/>
<rect x="955.2" y="597.4" width="191.5" height="38.1" rx="12" fill="#000000"/>
<g font-size="17.4" fill="#ffffff">
<text x="797" y="428.2" fill="#fdf0ee" textLength="116.4" lengthAdjust="spacingAndGlyphs">Positivos 1 a 5</text>
<text x="794.7" y="478" textLength="126" lengthAdjust="spacingAndGlyphs">Positivos 6 a 10</text>
<text x="792" y="527" textLength="136.5" lengthAdjust="spacingAndGlyphs">Positivos 11 a 20</text>
<text x="792" y="574.5" textLength="136.5" lengthAdjust="spacingAndGlyphs">Positivos 21 a 50</text>
<text x="979.5" y="427.7" textLength="146" lengthAdjust="spacingAndGlyphs">Positivos 51 a 200</text>
<text x="974.8" y="476.8" textLength="155.5" lengthAdjust="spacingAndGlyphs">Positivos 201 a 500</text>
<text x="968.6" y="525.8" textLength="160.6" lengthAdjust="spacingAndGlyphs">Positivos 501 a 1000</text>
<text x="966" y="573" textLength="170.5" lengthAdjust="spacingAndGlyphs">Positivos 1001 a 5000</text>
<text x="987.5" y="622" textLength="127.2" lengthAdjust="spacingAndGlyphs">Positivos &gt; 5000</text>
</g>
</g>
</svg>
</body></html>
